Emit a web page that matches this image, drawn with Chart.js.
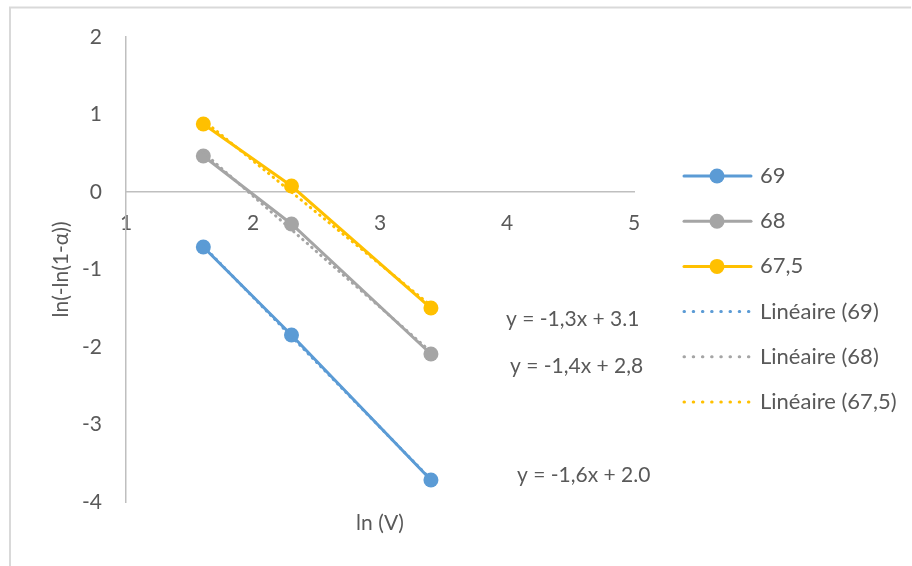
<!DOCTYPE html>
<html><head><meta charset="utf-8">
<script src="https://cdn.jsdelivr.net/npm/chart.js@4.4.0/dist/chart.umd.min.js"></script>
<style>html,body{margin:0;padding:0;background:#fff;} #wrap{width:912px;height:566px;position:relative;}</style>
</head><body><div id="wrap"><canvas id="c" width="912" height="566"></canvas></div>
<script>
// ---- data ----
const seriesNames = ['69', '68', '67,5'];
const xValues = [1.609, 2.303, 3.401];
const y69 = [-0.71, -1.845, -3.716];
const y68 = [0.465, -0.413, -2.09];
const y675 = [0.877, 0.077, -1.497];
const trendNames = ['Linéaire (69)', 'Linéaire (68)', 'Linéaire (67,5)'];
const equationLabels = ['y = -1,3x + 3.1', 'y = -1,4x + 2,8', 'y = -1,6x + 2.0'];
const xTicks = [1, 2, 3, 4, 5];
const yTicks = [-4, -3, -2, -1, 0, 1, 2];
const xTitle = 'ln (V)';
const yTitle = 'ln(-ln(1-α))';

// ---- styles ----
const colors = ['#5B9BD5', '#A5A5A5', '#FFC000'];
const FONT = 'Lato';
const FS = 21;
const TXT = '#595959';

function pts(ys) { return xValues.map((x, i) => ({x: x, y: ys[i]})); }
function fit(ys) {
  const n = xValues.length;
  const mx = xValues.reduce((a, b) => a + b, 0) / n;
  const my = ys.reduce((a, b) => a + b, 0) / n;
  let sxy = 0, sxx = 0;
  for (let i = 0; i < n; i++) { sxy += (xValues[i] - mx) * (ys[i] - my); sxx += (xValues[i] - mx) ** 2; }
  const m = sxy / sxx, b = my - m * mx;
  const x0 = Math.min(...xValues), x1 = Math.max(...xValues);
  return [{x: x0, y: m * x0 + b}, {x: x1, y: m * x1 + b}];
}
const allY = [y69, y68, y675];

const datasets = [];
allY.forEach((ys, i) => {
  datasets.push({
    label: seriesNames[i], data: pts(ys), showLine: true,
    borderColor: colors[i], backgroundColor: colors[i], borderWidth: 3,
    pointRadius: 7.5, pointHoverRadius: 7.5, pointBorderWidth: 0,
    pointBackgroundColor: colors[i], order: 2
  });
});
allY.forEach((ys, i) => {
  datasets.push({
    label: trendNames[i], data: fit(ys), showLine: true,
    borderColor: colors[i], borderWidth: 3, borderDash: [0.5, 5.5], borderCapStyle: 'round',
    pointRadius: 0, order: 1
  });
});

const deco = {
  id: 'deco',
  afterDraw(chart) {
    const ctx = chart.ctx;
    ctx.save();
    // outer frame (top and left only)
    ctx.strokeStyle = '#D9D9D9'; ctx.lineWidth = 2;
    ctx.beginPath(); ctx.moveTo(10, 566); ctx.lineTo(10, 7.5); ctx.lineTo(911, 7.5); ctx.stroke();
    ctx.fillStyle = TXT;
    ctx.font = FS + 'px ' + FONT;
    // axis titles
    const ca = chart.chartArea;
    ctx.textAlign = 'center'; ctx.textBaseline = 'middle';
    ctx.fillText(xTitle, (ca.left + ca.right) / 2, 523);
    ctx.save(); ctx.translate(61, (ca.top + ca.bottom) / 2); ctx.rotate(-Math.PI / 2);
    ctx.fillText(yTitle, 0, 0); ctx.restore();
    // equations
    ctx.textAlign = 'left';
    const eqPos = [[506, 319], [510, 366], [517, 475]];
    equationLabels.forEach((t, i) => ctx.fillText(t, eqPos[i][0], eqPos[i][1]));
    // legend
    ctx.font = '22px ' + FONT;
    const names = seriesNames.concat(trendNames);
    const ly0 = 176, dy = 45.2;
    names.forEach((n, i) => {
      const y = ly0 + i * dy;
      const c = colors[i % 3];
      ctx.strokeStyle = c; ctx.lineWidth = 3;
      if (i < 3) {
        ctx.setLineDash([]); ctx.lineCap = 'round';
        ctx.beginPath(); ctx.moveTo(684, y); ctx.lineTo(751, y); ctx.stroke();
        ctx.fillStyle = c; ctx.beginPath(); ctx.arc(717, y, 7.5, 0, Math.PI * 2); ctx.fill();
      } else {
        ctx.setLineDash([0.5, 8.7]); ctx.lineCap = 'round';
        ctx.beginPath(); ctx.moveTo(684, y); ctx.lineTo(752, y); ctx.stroke();
        ctx.setLineDash([]);
      }
      ctx.fillStyle = TXT; ctx.textAlign = 'left'; ctx.textBaseline = 'middle';
      ctx.fillText(n, 760, y);
    });
    ctx.restore();
  }
};

new Chart(document.getElementById('c'), {
  type: 'scatter',
  data: {datasets: datasets},
  plugins: [deco],
  options: {
    responsive: false, animation: false, devicePixelRatio: 1,
    layout: {padding: {left: 0, top: 37, right: 278, bottom: 64}},
    plugins: {legend: {display: false}, tooltip: {enabled: false}},
    scales: {
      x: {
        type: 'linear', min: 1, max: 5, position: {y: 0},
        afterBuildTicks: s => { s.ticks = xTicks.map(v => ({value: v})); },
        grid: {display: false, drawTicks: false},
        border: {display: true, color: '#BFBFBF', width: 1.5},
        ticks: {color: TXT, font: {family: FONT, size: FS}, padding: 19, maxRotation: 0}
      },
      y: {
        type: 'linear', min: -4, max: 2, position: 'left',
        afterBuildTicks: s => { s.ticks = yTicks.map(v => ({value: v})); },
        afterFit: s => { s.width = 126; },
        grid: {display: false, drawTicks: false},
        border: {display: true, color: '#BFBFBF', width: 1.5},
        ticks: {color: TXT, font: {family: FONT, size: FS}, padding: 24}
      }
    }
  }
});
</script></body></html>
